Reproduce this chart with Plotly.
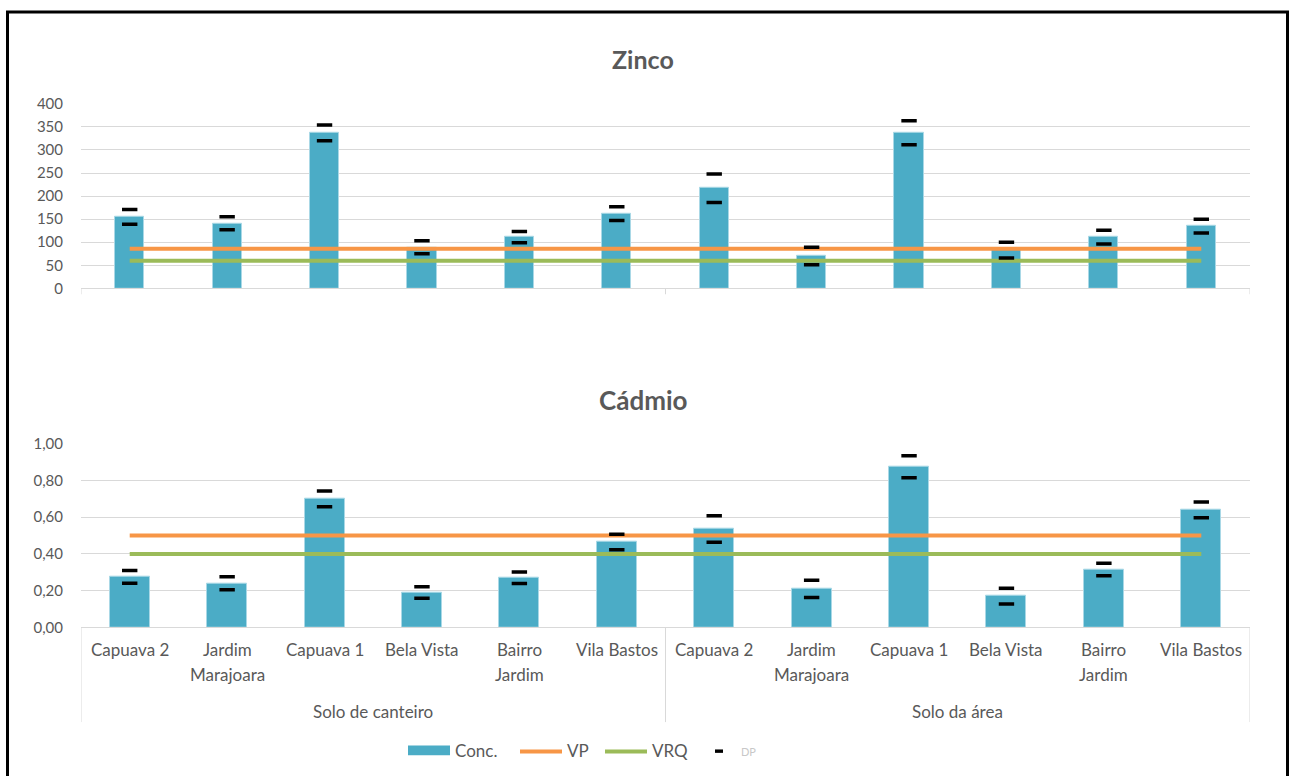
import plotly.graph_objects as go

# ---- data ----
sites = ["Capuava 2", "Jardim Marajoara", "Capuava 1", "Bela Vista", "Bairro Jardim", "Vila Bastos"]
site_lines = [("Capuava 2", ""), ("Jardim", "Marajoara"), ("Capuava 1", ""),
              ("Bela Vista", ""), ("Bairro", "Jardim"), ("Vila Bastos", "")]
groups = ["Solo de canteiro", "Solo da área"]

zn_conc = [155, 141, 337, 89, 111, 162, 217, 70, 337, 83, 111, 135]
zn_dp = [16, 14, 17, 14, 12, 15, 31, 19, 26, 17, 15, 15]
zn_vp = 86
zn_vrq = 60

cd_conc = [0.275, 0.24, 0.70, 0.19, 0.27, 0.465, 0.535, 0.21, 0.875, 0.17, 0.315, 0.64]
cd_dp = [0.035, 0.035, 0.043, 0.031, 0.031, 0.042, 0.072, 0.047, 0.06, 0.043, 0.034, 0.043]
cd_vp = 0.5
cd_vrq = 0.4

# ---- styling ----
W, H = 1292, 776
C_BAR = "#4BACC6"
C_VP = "#F79646"
C_VRQ = "#9BBB59"
C_TXT = "#595959"
C_GRID = "#D9D9D9"
FONT = "Lato"
LBL = 17


def X(px):
    return px / W


def Y(py):
    return 1 - py / H


n = len(zn_conc)
xs = list(range(n))

fig = go.Figure()


def add_panel(conc, dp, vp, vrq, xa, ya, barw):
    fig.add_trace(go.Bar(x=xs, y=conc, width=barw, marker=dict(color=C_BAR, line=dict(color="#A9D8E6", width=1)),
                         xaxis=xa, yaxis=ya, showlegend=False, name="Conc."))
    fig.add_trace(go.Scatter(x=xs, y=[vp] * n, mode="lines", line=dict(color=C_VP, width=4),
                             xaxis=xa, yaxis=ya, showlegend=False, name="VP"))
    fig.add_trace(go.Scatter(x=xs, y=[vrq] * n, mode="lines", line=dict(color=C_VRQ, width=4),
                             xaxis=xa, yaxis=ya, showlegend=False, name="VRQ"))
    marks_x = xs + xs
    marks_y = [c + d for c, d in zip(conc, dp)] + [c - d for c, d in zip(conc, dp)]
    fig.add_trace(go.Scatter(x=marks_x, y=marks_y, mode="markers",
                             marker=dict(symbol="line-ew", size=11, line=dict(color="black", width=3.5)),
                             xaxis=xa, yaxis=ya, showlegend=False, name="DP"))


add_panel(zn_conc, zn_dp, zn_vp, zn_vrq, "x", "y", 0.3)
add_panel(cd_conc, cd_dp, cd_vp, cd_vrq, "x2", "y2", 0.41)

axis_common = dict(showgrid=False, zeroline=False, showticklabels=False, range=[-0.5, n - 0.5],
                   showline=True, linecolor=C_GRID, linewidth=1, fixedrange=True)
yaxis_common = dict(showgrid=True, gridcolor=C_GRID, gridwidth=1, zeroline=False, showline=False,
                    ticks="outside", ticklen=14, tickcolor="rgba(0,0,0,0)",
                    tickfont=dict(family=FONT, size=15, color=C_TXT))

# vertical placement of the two panels (pixels from the top)
ZN_TOP, ZN_BOT = 96, 285
CD_TOP, CD_BOT = 444, 632

fig.update_layout(
    width=W, height=H, margin=dict(l=0, r=0, t=0, b=0),
    paper_bgcolor="white", plot_bgcolor="white",
    separators=",.",
    bargap=0,
    xaxis=dict(domain=[X(81), X(1250)], anchor="y", **axis_common),
    yaxis=dict(domain=[Y(ZN_BOT), Y(ZN_TOP)], range=[0, 400], dtick=50, anchor="x", **yaxis_common),
    xaxis2=dict(domain=[X(81), X(1250)], anchor="y2", **axis_common),
    yaxis2=dict(domain=[Y(CD_BOT), Y(CD_TOP)], range=[0, 1], dtick=0.2, tickformat=".2f", anchor="x2",
                **yaxis_common),
)

shapes = []
annotations = []


def label(text, x, y, size=LBL, color=C_TXT, xref="paper", xanchor="center"):
    annotations.append(dict(text=text, xref=xref, yref="paper", x=x, y=Y(y), showarrow=False,
                            xanchor=xanchor, yanchor="middle",
                            font=dict(family=FONT, size=size, color=color)))


# outer frame
shapes.append(dict(type="rect", xref="paper", yref="paper", x0=X(7.5), x1=X(1287.5), y0=-0.05, y1=Y(2),
                   line=dict(color="black", width=3), fillcolor="rgba(0,0,0,0)", layer="above"))

# titles
label("<b>Zinco</b>", X(643), 50, size=25)
label("<b>Cádmio</b>", X(643), 399, size=26)

# zinc axis tick marks at the group boundaries and table dividers below the cadmium panel
for b in [-0.5, n / 2 - 0.5, n - 0.5]:
    shapes.append(dict(type="line", xref="x", yref="paper", x0=b, x1=b, y0=Y(ZN_BOT), y1=Y(ZN_BOT + 6),
                       line=dict(color=C_GRID, width=1)))
    shapes.append(dict(type="line", xref="x2", yref="paper", x0=b, x1=b, y0=Y(CD_BOT), y1=Y(729),
                       line=dict(color=C_GRID, width=1)))

# category labels
for g, grp in enumerate(groups):
    for i, (l1, l2) in enumerate(site_lines):
        xi = g * len(sites) + i
        label(l1, xi, 655, xref="x2")
        if l2:
            label(l2, xi, 680, xref="x2")
    label(grp, g * len(sites) + (len(sites) - 1) / 2, 718, xref="x2")

# legend
ly = 758
shapes.append(dict(type="rect", xref="paper", yref="paper", x0=X(408), x1=X(450), y0=Y(ly + 5), y1=Y(ly - 5),
                   fillcolor=C_BAR, line=dict(width=0)))
label("Conc.", X(453), ly, xanchor="left")
shapes.append(dict(type="line", xref="paper", yref="paper", x0=X(520), x1=X(562), y0=Y(ly + 1), y1=Y(ly + 1),
                   line=dict(color=C_VP, width=4)))
label("VP", X(565), ly, xanchor="left")
shapes.append(dict(type="line", xref="paper", yref="paper", x0=X(605), x1=X(647), y0=Y(ly + 1), y1=Y(ly + 1),
                   line=dict(color=C_VRQ, width=4)))
label("VRQ", X(650), ly, xanchor="left")
shapes.append(dict(type="rect", xref="paper", yref="paper", x0=X(715), x1=X(723), y0=Y(ly + 2.5), y1=Y(ly - 1),
                   fillcolor="black", line=dict(width=0)))
label("DP", X(739), ly + 1, size=11, color="#C8C8C8", xanchor="left")

fig.update_layout(shapes=shapes, annotations=annotations)

fig.write_html("out.html")
